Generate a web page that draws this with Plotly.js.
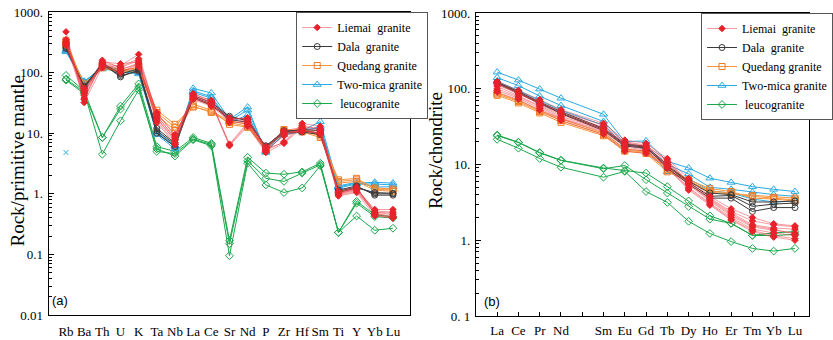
<!DOCTYPE html>
<html>
<head>
<meta charset="utf-8">
<script src="https://cdn.plot.ly/plotly-3.0.1.min.js"></script>
<style>html,body{margin:0;padding:0;background:#fff;}#chart{width:833px;height:340px;}</style>
</head>
<body>
<div id="chart"></div>
<script>
// ---------- DATA ----------
const pmElements = ["Rb","Ba","Th","U","K","Ta","Nb","La","Ce","Sr","Nd","P","Zr","Hf","Sm","Ti","Y","Yb","Lu"];
const reeElements = ["La","Ce","Pr","Nd","Pm","Sm","Eu","Gd","Tb","Dy","Ho","Er","Tm","Yb","Lu"];
const reeLabels = ["La","Ce","Pr","Nd","","Sm","Eu","Gd","Tb","Dy","Ho","Er","Tm","Yb","Lu"];

const groupNames = ["Liemai  granite","Dala  granite","Quedang granite","Two-mica granite"," leucogranite"];
const yTitles = ["Rock/primitive mantle", "Rock/chondrite"];
const panelLabels = ["(a)", "(b)"];

// Primitive-mantle normalised (panel a)
const liemaiPM = [
  [470, 32, 125, 130, 200, 20, 8.0, 45, 34, 6.4, 14, 5.2, 7.2, 14.5, 13, 1.0, 1.2, 0.55, 0.55],
  [350, 38, 150, 140, 150, 18, 7.5, 42, 32, 6.6, 15, 5.5, 7.0, 12, 11, 0.95, 1.1, 0.48, 0.42],
  [320, 45, 160, 120, 160, 22, 9.0, 40, 30, 17, 16, 5.8, 10, 11, 10, 1.05, 1.25, 0.5, 0.48],
  [300, 50, 130, 100, 140, 16, 7.0, 38, 29, 18, 17, 6.0, 10.5, 10.5, 10.5, 1.1, 1.3, 0.45, 0.4],
  [310, 42, 140, 115, 135, 15, 6.5, 36, 28, 16, 14, 5.0, 9.5, 11.5, 9.5, 0.98, 1.15, 0.47, 0.41],
  [280, 55, 120, 105, 125, 19, 8.5, 44, 35, 17, 18, 5.6, 11, 12.5, 12, 1.08, 1.22, 0.52, 0.5],
  [290, 36, 145, 125, 170, 21, 9.5, 37, 31, 6.2, 13, 4.8, 6.8, 13.5, 11.5, 0.92, 1.05, 0.43, 0.4],
  [330, 48, 135, 110, 145, 17, 7.8, 41, 33, 15, 15.5, 5.3, 9.0, 11, 10, 1.02, 1.18, 0.5, 0.45]
];
const dalaPM = [
  [270, 55, 140, 85, 110, 11, 6.5, 42, 32, 19, 16, 6.0, 11, 11, 10, 1.1, 1.3, 1.0, 1.0],
  [250, 60, 135, 90, 105, 10, 6.0, 40, 30, 18, 17, 5.8, 10, 10.5, 9.5, 1.15, 1.35, 0.95, 0.95],
  [260, 58, 145, 95, 115, 12, 6.8, 38, 29, 17, 15, 6.2, 10.5, 11.5, 11, 1.05, 1.25, 1.05, 1.02]
];
const quedangPM = [
  [340, 60, 130, 110, 120, 24, 14, 28, 22, 15, 13, 5.5, 11.5, 11, 9.0, 1.7, 1.8, 1.2, 1.15],
  [310, 65, 125, 105, 115, 22, 12.5, 30, 24, 14, 12.5, 5.3, 11, 10.5, 8.5, 1.6, 1.7, 1.25, 1.2],
  [300, 58, 120, 100, 110, 20, 11, 27, 23, 16, 14, 5.7, 10.5, 12, 9.5, 1.5, 1.6, 1.15, 1.1]
];
const twoMicaPM = [
  [230, 72, 120, 110, 100, 10, 6.0, 55, 46, 17, 27, 4.8, 10, 11, 15.5, 1.3, 1.5, 1.55, 1.5],
  [240, 70, 125, 115, 105, 9.5, 5.5, 50, 40, 16, 24, 5.0, 9.5, 10.5, 13, 1.25, 1.45, 1.45, 1.4],
  [220, 68, 115, 105, 95, 10.5, 6.2, 47, 38, 15, 20, 5.2, 10.5, 11.5, 12, 1.35, 1.55, 1.3, 1.3]
];
const leucoPM = [
  [90, 50, 8.5, 28, 65, 6.0, 5.0, 8.5, 6.8, 0.17, 4.0, 2.2, 2.1, 2.3, 3.2, 0.23, 0.75, 0.45, 0.42],
  [75, 45, 8.5, 25, 58, 5.0, 4.6, 8.0, 6.5, 0.15, 3.5, 1.8, 1.6, 2.2, 3.0, 0.23, 0.7, 0.42, 0.4],
  [78, 48, 4.5, 16, 52, 5.5, 4.2, 7.8, 6.2, 0.095, 3.2, 1.4, 1.05, 1.25, 2.9, 0.23, 0.43, 0.25, 0.27]
];
const strayRb = [4.8];

// Chondrite normalised REE (panel b), Pm not analysed
const liemaiREE = [
  [125, 95, 72, 53, null, 35, 21, 19, 12, 6.5, 3.8, 2.6, 2.0, 1.65, 1.55],
  [120, 90, 68, 50, null, 33, 20, 18, 11, 6.0, 3.6, 2.4, 1.8, 1.6, 1.5],
  [115, 85, 65, 47, null, 31, 19, 17, 10.5, 5.8, 3.5, 2.3, 1.6, 1.45, 1.4],
  [108, 80, 60, 43, null, 29, 18, 16, 10, 5.4, 3.3, 2.1, 1.5, 1.35, 1.25],
  [100, 78, 58, 41, null, 28, 17, 15.5, 9.5, 5.0, 3.1, 2.0, 1.4, 1.25, 1.15],
  [95, 75, 55, 40, null, 27, 16, 15, 9.2, 4.8, 3.0, 1.9, 1.35, 1.15, 1.05],
  [90, 72, 52, 38, null, 25, 15, 14, 9.0, 4.6, 2.9, 1.85, 1.3, 1.1, 1.0],
  [112, 88, 62, 45, null, 30, 19.5, 17.5, 11.5, 5.6, 3.4, 2.2, 1.55, 1.4, 1.2]
];
const dalaREE = [
  [120, 90, 65, 48, null, 29, 18, 17, 9.0, 5.5, 3.6, 3.6, 2.4, 2.7, 2.7],
  [118, 88, 64, 47, null, 28, 17.5, 16.5, 9.5, 5.8, 3.8, 3.9, 2.8, 3.0, 3.1],
  [122, 92, 67, 50, null, 30, 18.5, 17.5, 9.8, 6.0, 4.2, 4.0, 3.2, 3.2, 3.3]
];
const quedangREE = [
  [82, 65, 48, 36, null, 24, 15, 14, 8.0, 6.0, 4.5, 4.2, 3.8, 3.6, 3.4],
  [88, 70, 52, 40, null, 26, 16, 15, 9.0, 6.3, 4.8, 4.4, 3.6, 3.5, 3.3],
  [85, 68, 50, 38, null, 25, 15.5, 14.5, 8.5, 6.1, 4.3, 4.1, 3.9, 3.7, 3.6]
];
const twoMicaREE = [
  [166, 130, 99, 75, null, 46, 20, 20.5, 11, 9.0, 6.6, 5.8, 5.1, 4.7, 4.4],
  [140, 110, 80, 60, null, 37, 19, 17, 10, 7.5, 5.0, 4.7, 4.3, 4.0, 3.8],
  [125, 95, 70, 52, null, 33, 18, 16, 8.0, 6.5, 4.5, 4.2, 3.5, 3.2, 3.3]
];
const leucoREE = [
  [24.5, 19.7, 14.4, 11.4, null, 9.0, 8.3, 7.7, 5.1, 3.3, 2.1, 1.67, 1.16, 1.25, 1.3],
  [24, 19.5, 14.2, 11.3, null, 8.8, 9.7, 6.3, 4.2, 2.8, 1.9, 1.67, 1.16, 1.15, 1.2],
  [21.5, 16.4, 12, 9.2, null, 6.8, 8.1, 4.4, 3.16, 1.78, 1.23, 0.96, 0.78, 0.72, 0.78]
];

const pmTickVals = [0.01, 0.1, 1, 10, 100, 1000];
const pmTickText = ["0.01", "0.1", "1.", "10.", "100.", "1000."];
const reeTickVals = [0.1, 1, 10, 100, 1000];
const reeTickText = ["0. 1", "1.", "10.", "100.", "1000."];

// ---------- STYLES ----------
const styles = [
  {line: "rgba(238,60,70,0.5)", marker: "#e8222b", symbol: "diamond", size: 5, width: 1, rank: 1},
  {line: "#3a3a3a", marker: "#3a3a3a", symbol: "circle-open", size: 6, width: 1, rank: 2},
  {line: "#f7943c", marker: "#f07a20", symbol: "square-open", size: 6, width: 1, rank: 3},
  {line: "#2aaae2", marker: "#2aaae2", symbol: "triangle-up-open", size: 7, width: 1, rank: 4},
  {line: "#1aa84b", marker: "#1aa84b", symbol: "diamond-open", size: 6, width: 1, rank: 5}
];

const pmGroups = [liemaiPM, dalaPM, quedangPM, twoMicaPM, leucoPM];
const reeGroups = [liemaiREE, dalaREE, quedangREE, twoMicaREE, leucoREE];
const drawOrder = [4, 3, 2, 1, 0];

const traces = [];
function addGroup(gi, samples, cats, xa, ya, legendId) {
  const s = styles[gi];
  samples.forEach((vals, k) => {
    traces.push({
      type: "scatter", mode: "lines+markers",
      x: cats, y: vals, xaxis: xa, yaxis: ya,
      connectgaps: true,
      name: groupNames[gi], legendgroup: legendId + gi, legend: legendId,
      showlegend: k === 0, legendrank: s.rank,
      line: {color: s.line, width: s.width},
      marker: {symbol: s.symbol, size: s.size, color: s.marker, line: {color: s.marker, width: 1}},
      hoverinfo: "skip"
    });
  });
}
drawOrder.forEach(gi => addGroup(gi, pmGroups[gi], pmElements, "x", "y", "legend"));
traces.push({
  type: "scatter", mode: "markers", x: [pmElements[0]], y: strayRb, xaxis: "x", yaxis: "y",
  showlegend: false, marker: {symbol: "x-thin-open", size: 5, color: "#2aaae2", line: {color: "#2aaae2", width: 1}},
  hoverinfo: "skip"
});
drawOrder.forEach(gi => addGroup(gi, reeGroups[gi], reeElements, "x2", "y2", "legend2"));

function minorVals(lo, hi) {
  const out = [];
  for (let d = lo; d < hi; d++) for (let m = 2; m <= 9; m++) out.push(m * Math.pow(10, d));
  return out;
}

const serif = "Liberation Serif";
const sans = "Liberation Sans";
const W = 833, H = 340;
const axisCommon = {showgrid: false, zeroline: false, showline: true, linecolor: "#000", linewidth: 1, mirror: true};

const layout = {
  width: W, height: H,
  margin: {l: 0, r: 0, t: 0, b: 0},
  paper_bgcolor: "#fff", plot_bgcolor: "#fff",
  font: {family: serif, size: 13, color: "#000"},
  xaxis: Object.assign({}, axisCommon, {
    domain: [50 / W, 422 / W], type: "category", range: [-0.96, 18.93],
    ticks: "", tickfont: {family: serif, size: 13}, ticklabelstandoff: 4
  }),
  yaxis: Object.assign({}, axisCommon, {
    domain: [1 - 315 / H, 1 - 12 / H], type: "log", range: [-2, 3],
    tickmode: "array", tickvals: pmTickVals, ticktext: pmTickText,
    ticks: "inside", ticklen: 5, tickcolor: "#000",
    minor: {tickmode: "array", tickvals: minorVals(-2, 3), ticks: "inside", ticklen: 3, tickcolor: "#000", showgrid: false},
    tickfont: {family: serif, size: 13}, ticklabelstandoff: 2
  }),
  xaxis2: Object.assign({}, axisCommon, {
    domain: [490 / W, 1], type: "category", range: [-1, 14.66], anchor: "y2",
    tickmode: "array", tickvals: reeElements, ticktext: reeLabels,
    ticks: "inside", ticklen: 4, tickcolor: "#000",
    tickfont: {family: serif, size: 13}, ticklabelstandoff: 2
  }),
  yaxis2: Object.assign({}, axisCommon, {
    domain: [1 - 316 / H, 1 - 13 / H], type: "log", range: [-1, 3], anchor: "x2",
    tickmode: "array", tickvals: reeTickVals, ticktext: reeTickText,
    ticks: "inside", ticklen: 5, tickcolor: "#000",
    minor: {tickmode: "array", tickvals: minorVals(-1, 3), ticks: "inside", ticklen: 3, tickcolor: "#000", showgrid: false},
    tickfont: {family: serif, size: 13}, ticklabelstandoff: 2
  }),
  legend: {
    x: 305 / W, y: 1 - 12 / H, xanchor: "left", yanchor: "top",
    bgcolor: "#fff", bordercolor: "#555", borderwidth: 1,
    font: {family: serif, size: 12}, tracegroupgap: 0, itemwidth: 30
  },
  legend2: {
    x: 722 / W, y: 1 - 13 / H, xanchor: "left", yanchor: "top",
    bgcolor: "#fff", bordercolor: "#555", borderwidth: 1,
    font: {family: serif, size: 12}, tracegroupgap: 0, itemwidth: 30
  },
  annotations: [
    {text: yTitles[0], xref: "paper", yref: "paper", x: 18 / W, y: 1 - 160 / H, xanchor: "center", yanchor: "middle",
     textangle: -90, showarrow: false, font: {family: serif, size: 19}},
    {text: yTitles[1], xref: "paper", yref: "paper", x: 448 / W, y: 1 - 151 / H, xanchor: "center", yanchor: "middle",
     textangle: -90, showarrow: false, font: {family: serif, size: 19}},
    {text: panelLabels[0], xref: "paper", yref: "paper", x: 62 / W, y: 1 - 300 / H, xanchor: "center", yanchor: "middle",
     showarrow: false, font: {family: sans, size: 13}},
    {text: panelLabels[1], xref: "paper", yref: "paper", x: 507 / W, y: 1 - 301 / H, xanchor: "center", yanchor: "middle",
     showarrow: false, font: {family: sans, size: 13}}
  ],
  showlegend: true
};

Plotly.newPlot("chart", traces, layout, {staticPlot: true, displayModeBar: false});
</script>
</body>
</html>
